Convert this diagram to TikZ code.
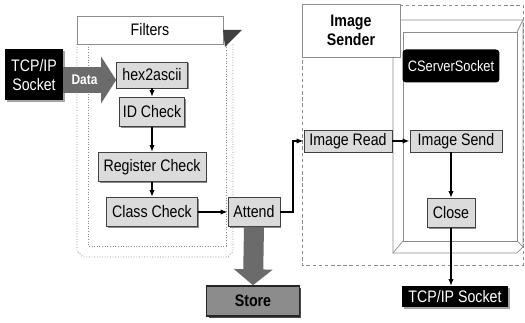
\documentclass[tikz,border=0pt]{standalone}
\usepackage{fontspec}
\setmainfont{Liberation Sans}[FakeStretch=0.85]
\usepackage{xcolor}
\usepackage{tikz}
\usetikzlibrary{arrows.meta,shadows,backgrounds}
\definecolor{boxgray}{gray}{0.86}
\definecolor{framegray}{gray}{0.55}
\definecolor{fatgray}{gray}{0.42}
\definecolor{storegray}{gray}{0.55}

\begin{document}
\begin{tikzpicture}[x=0.02cm, y=-0.02cm,
    font=\fontsize{9.5}{11}\selectfont,
    box/.style={draw=black!75, fill=boxgray, inner sep=0pt, minimum height=0.58cm,
      drop shadow={shadow xshift=0.03cm, shadow yshift=-0.03cm, fill=black!45, opacity=1}},
    blackbox/.style={fill=black, text=white, inner sep=0pt, align=center},
    title/.style={draw=framegray, fill=white, inner sep=0pt},
    arr/.style={-{Latex[length=4pt, width=3pt]}, line width=0.8pt},
    fat/.style={fatgray, -{Triangle[length=0.3cm, width=0.92cm]}},
    frame/.style={framegray, densely dotted, line width=0.5pt}
  ]
  \useasboundingbox (0,0) rectangle (525,323);

  % Filters
  \node[title, minimum width=2.92cm, minimum height=0.56cm] (filters) at (150,30) {Filters};
  \fill[black!75] (223,30) -- (242,30) -- (225,47) -- cycle;
  \node[blackbox, minimum width=1.16cm, minimum height=1.02cm,
    drop shadow={shadow xshift=0.04cm, shadow yshift=-0.04cm, fill=black!35, opacity=1}] (sock) at (34,75) {TCP/IP\\Socket};
  \node[box, minimum width=1.42cm, minimum height=0.52cm] (hex) at (152,75) {hex2ascii};
  \node[box, minimum width=1.3cm] (idcheck) at (152,112) {ID Check};
  \node[box, minimum width=2.16cm] (regcheck) at (152,167) {Register Check};
  \node[box, minimum width=1.82cm] (clscheck) at (152,212) {Class Check};
  \node[box, minimum width=1.04cm] (attend) at (254,212) {Attend};
  \node[draw=black!85, fill=storegray, line width=0.8pt, inner sep=0pt,
    minimum width=1.86cm, minimum height=0.6cm, font=\bfseries\fontsize{9.5}{11}\selectfont,
    drop shadow={shadow xshift=0.04cm, shadow yshift=-0.04cm, fill=black!70, opacity=1}] (store) at (253,301) {Store};

  % Image Sender
  \node[title, align=center, minimum width=1.96cm, minimum height=1.06cm,
    font=\bfseries\fontsize{9.5}{11}\selectfont] (sender) at (351,30.5) {Image\\Sender};
  \node[blackbox, minimum width=1.94cm, minimum height=0.66cm, rounded corners=2pt,
    font=\fontsize{8.6}{10}\selectfont] (cserver) at (451,66) {CServerSocket};
  \node[box, minimum width=1.76cm, minimum height=0.44cm] (imgread) at (348,141) {Image Read};
  \node[box, minimum width=1.84cm, minimum height=0.44cm] (imgsend) at (456,141) {Image Send};
  \node[box, minimum width=0.96cm] (close) at (451,213) {Close};
  \node[blackbox, minimum width=2.12cm, minimum height=0.42cm,
    drop shadow={shadow xshift=0.04cm, shadow yshift=-0.04cm, fill=black!35, opacity=1}] (tcpout) at (455,297) {TCP/IP Socket};

  % frames behind
  \begin{pgfonlayer}{background}
    \draw[frame] (77,44) -- (77,251) -- (83,257) -- (228,257) -- (233,251) -- (233,44);
    \draw[frame] (88,44) -- (88,246) -- (226,246) -- (226,44);
    \draw[framegray, dash pattern=on 2pt off 1.5pt] (302,5) rectangle (523,265);
    \draw[framegray] (393,253) -- (393,24) -- (397,20) -- (523,20) -- (523,247) -- (517,253) -- cycle;
    \draw[framegray] (403,32) rectangle (517,241);
    \draw[framegray] (403,241) -- (393,253) (517,241) -- (523,247) (517,32) -- (523,20);
  \end{pgfonlayer}

  % arrows
  \draw[fat, line width=0.52cm] ([yshift=-0.1cm]sock.east) -- ([yshift=-0.1cm]hex.west)
    node[pos=0.4, text=white, font=\bfseries\fontsize{8}{9}\selectfont] (data) {Data};
  \draw[fat, line width=0.4cm, -{Triangle[length=0.32cm, width=0.76cm]}] (attend.south) -- (store.north);
  \draw[arr] (hex) -- (idcheck);
  \draw[arr] (idcheck) -- (regcheck);
  \draw[arr] (regcheck) -- (clscheck);
  \draw[arr, line width=1.4pt] (clscheck) -- (attend);
  \draw[arr, line width=1.1pt] (attend.east) -- ++(13,0) |- (imgread.west);
  \draw[arr] (imgread) -- (imgsend);
  \draw[arr, line width=1.1pt] (imgsend.south -| close) -- (close);
  \draw[arr, line width=1.4pt] (close.south) -- (close.south |- tcpout.north);
\end{tikzpicture}
\end{document}
